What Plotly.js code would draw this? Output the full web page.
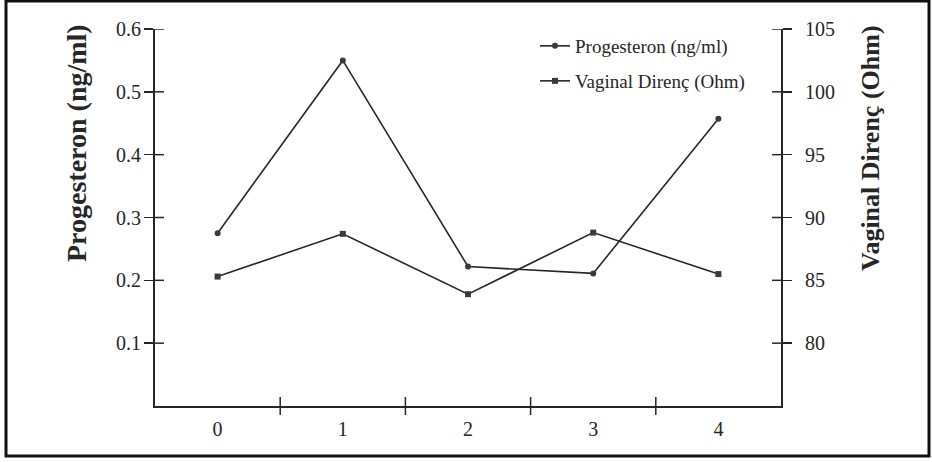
<!DOCTYPE html>
<html>
<head>
<meta charset="utf-8">
<script src="https://cdn.plot.ly/plotly-3.0.1.min.js"></script>
<style>html,body{margin:0;padding:0;background:#fff;}#chart{width:932px;height:462px;}</style>
</head>
<body>
<div id="chart"></div>
<script>
// ---- data ----
const days = [0, 1, 2, 3, 4];
const dayLabels = ["0", "1", "2", "3", "4"];
const progesteron = [0.275, 0.550, 0.222, 0.211, 0.457];
const vaginalDirenc = [85.3, 88.7, 83.9, 88.8, 85.5];
const progTicks = [0.1, 0.2, 0.3, 0.4, 0.5, 0.6];
const ohmTicks = [80, 85, 90, 95, 100, 105];
const seriesNames = ["Progesteron (ng/ml)", "Vaginal Direnç (Ohm)"];
const axisTitles = ["Progesteron (ng/ml)", "Vaginal Direnç (Ohm)"];

const ink = "#262626";
const serif = "Liberation Serif, Times New Roman, serif";
const boundaries = days.slice(0, -1).map(d => d + 0.5);
const xRange = [days[0] - 0.5, days[days.length - 1] + 0.5];
const yRange = [0, 0.6];
const y2Range = [75, 105];

const W = 932, H = 462;
const M = {l: 155, r: 151, t: 29, b: 56};
const pw = W - M.l - M.r, ph = H - M.t - M.b;
const TL = 9; // half-length of the cross ticks
const px2x = p => (p - M.l) / pw;
const px2y = p => (H - M.b - p) / ph;

const traces = [
  {x: days, y: progesteron, name: seriesNames[0], xaxis: "x", yaxis: "y",
   mode: "lines+markers", line: {color: ink, width: 1.6},
   marker: {symbol: "circle", size: 6, color: "#3a3a3a"}, legend: "legend"},
  {x: days, y: vaginalDirenc, name: seriesNames[1], xaxis: "x", yaxis: "y2",
   mode: "lines+markers", line: {color: ink, width: 1.6},
   marker: {symbol: "square", size: 6, color: "#3a3a3a"}, legend: "legend2"}
];

// cross ticks (inner halves, and outer halves for the x boundaries)
const tickLine = {color: ink, width: 1.5};
const shapes = [];
boundaries.forEach(b => shapes.push({type: "line", xref: "x", yref: "paper",
  x0: b, x1: b, y0: -TL / ph, y1: TL / ph, line: tickLine}));
progTicks.forEach(v => shapes.push({type: "line", xref: "paper", yref: "y",
  x0: 0, x1: TL / pw, y0: v, y1: v, line: tickLine}));
ohmTicks.forEach(v => shapes.push({type: "line", xref: "paper", yref: "y2",
  x0: 1 - TL / pw, x1: 1, y0: v, y1: v, line: tickLine}));
shapes.push({type: "rect", xref: "paper", yref: "paper",
  x0: px2x(6), x1: px2x(929), y0: px2y(456), y1: px2y(1),
  line: {color: "#111", width: 3}, layer: "below"});

const tickFont = {family: serif, size: 20, color: ink};
const legendFont = {family: serif, size: 19, color: ink};
const layout = {
  width: W, height: H,
  margin: M,
  paper_bgcolor: "#fff", plot_bgcolor: "rgba(0,0,0,0)",
  showlegend: true,
  xaxis: {range: xRange, tickvals: days, ticktext: dayLabels, ticks: "",
          showline: true, linecolor: ink, linewidth: 2, showgrid: false, zeroline: false,
          tickfont: tickFont, ticklabelstandoff: 4},
  yaxis: {range: yRange, tickvals: progTicks, ticktext: progTicks.map(v => v.toFixed(1)),
          ticks: "outside", ticklen: TL, tickwidth: 1.5, tickcolor: ink,
          showline: true, linecolor: ink, linewidth: 2, showgrid: false, zeroline: false,
          tickfont: tickFont, ticklabelstandoff: -1},
  yaxis2: {overlaying: "y", side: "right", range: y2Range, tickvals: ohmTicks,
           ticks: "outside", ticklen: TL, tickwidth: 1.5, tickcolor: ink,
           showline: true, linecolor: ink, linewidth: 2, showgrid: false, zeroline: false,
           tickfont: tickFont, ticklabelstandoff: 9},
  legend: {x: px2x(535), y: px2y(27), xanchor: "left", yanchor: "top", bgcolor: "rgba(0,0,0,0)",
           font: legendFont, itemwidth: 30},
  legend2: {x: px2x(535), y: px2y(62), xanchor: "left", yanchor: "top", bgcolor: "rgba(0,0,0,0)",
            font: legendFont, itemwidth: 30},
  annotations: [
    {text: "<b>" + axisTitles[0] + "</b>", xref: "paper", yref: "paper",
     x: px2x(76), y: px2y(143), textangle: -90, showarrow: false,
     xanchor: "center", yanchor: "middle", font: {family: serif, size: 28, color: ink}},
    {text: "<b>" + axisTitles[1] + "</b>", xref: "paper", yref: "paper",
     x: px2x(870), y: px2y(148), textangle: -90, showarrow: false,
     xanchor: "center", yanchor: "middle", font: {family: serif, size: 26, color: ink}}
  ],
  shapes: shapes
};

Plotly.newPlot("chart", traces, layout, {displayModeBar: false, staticPlot: true});
</script>
</body>
</html>
